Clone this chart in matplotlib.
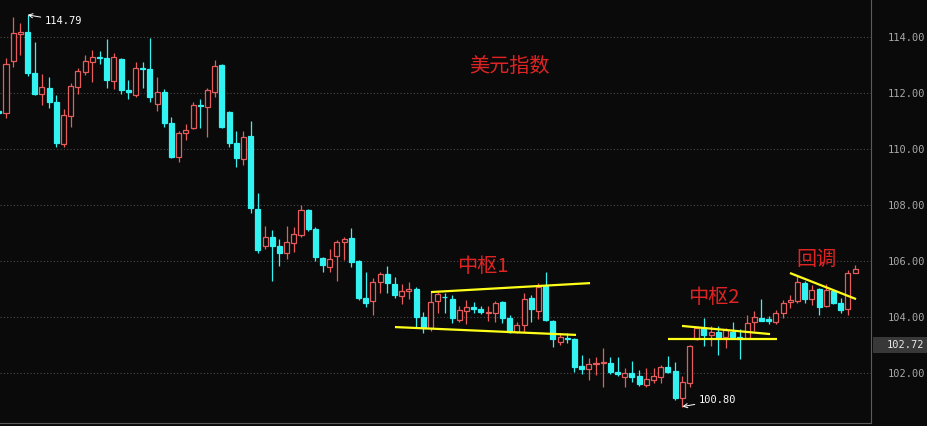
import matplotlib
matplotlib.use("Agg")
import matplotlib.pyplot as plt
import matplotlib.transforms as mtransforms
from matplotlib.patches import Rectangle
import numpy as np

plt.rcParams['font.family'] = ['Noto Sans CJK SC', 'DejaVu Sans']

# ---------------- data ----------------
opens = [111.36, 111.29, 113.14, 114.11, 114.18, 112.71, 111.96, 112.18, 111.68, 110.18,
         111.18, 112.21, 112.75, 113.11, 113.29, 113.25, 112.43, 113.21, 112.11, 111.93,
         112.89, 112.86, 111.61, 112.04, 110.93, 109.71, 110.57, 110.75, 111.57, 111.50,
         112.04, 113.00, 111.32, 110.21, 109.64, 110.46, 107.86, 106.54, 106.86, 106.54,
         106.29, 106.64, 106.93, 107.82, 107.14, 106.11, 105.79, 106.18, 106.68, 106.82,
         106.00, 104.68, 104.57, 105.25, 105.54, 105.18, 104.75, 104.93, 105.00, 104.00,
         103.61, 104.57, 104.73, 104.64, 103.89, 104.21, 104.36, 104.29, 104.14, 104.14,
         104.54, 103.96, 103.46, 103.71, 104.68, 104.21, 105.11, 103.86, 103.11, 103.25,
         103.21, 102.25, 102.14, 102.32, 102.36, 102.36, 102.04, 101.86, 102.00, 101.89,
         101.57, 101.75, 101.86, 102.21, 102.07, 101.11, 101.64, 103.21, 103.61, 103.36,
         103.46, 103.29, 103.46, 103.27, 103.25, 103.82, 103.96, 103.93, 103.82, 104.14,
         104.54, 104.57, 105.21, 104.64, 105.00, 104.39, 104.93, 104.50, 104.29, 105.57]
closes = [111.29, 113.04, 114.14, 114.18, 112.71, 111.96, 112.21, 111.68, 110.21, 111.21,
          112.25, 112.79, 113.14, 113.29, 113.25, 112.46, 113.29, 112.11, 112.04, 112.89,
          112.86, 111.86, 112.04, 110.93, 109.71, 110.57, 110.68, 111.57, 111.54, 112.11,
          112.96, 110.79, 110.21, 109.68, 110.43, 107.89, 106.39, 106.86, 106.54, 106.29,
          106.68, 106.96, 107.82, 107.14, 106.14, 105.86, 106.07, 106.68, 106.79, 105.96,
          104.68, 104.50, 105.25, 105.54, 105.21, 104.79, 104.93, 105.00, 104.00, 103.61,
          104.54, 104.82, 104.70, 103.96, 104.25, 104.36, 104.29, 104.18, 104.18, 104.50,
          103.96, 103.46, 103.71, 104.64, 104.29, 105.07, 103.89, 103.21, 103.29, 103.23,
          102.21, 102.14, 102.32, 102.36, 102.39, 102.04, 101.96, 102.00, 101.86, 101.61,
          101.79, 101.89, 102.21, 102.04, 101.11, 101.68, 102.96, 103.61, 103.36, 103.46,
          103.25, 103.54, 103.29, 103.23, 103.79, 104.00, 103.86, 103.86, 104.14, 104.50,
          104.61, 105.25, 104.64, 104.96, 104.36, 104.96, 104.50, 104.25, 105.57, 105.71]
highs = [111.50, 113.25, 114.71, 114.50, 114.79, 113.82, 112.68, 112.57, 111.93, 111.43,
         112.36, 112.89, 113.36, 113.54, 113.50, 113.93, 113.43, 113.25, 112.46, 113.11,
         113.11, 113.96, 112.57, 112.14, 111.14, 110.64, 110.89, 111.68, 111.79, 112.18,
         113.18, 113.04, 111.36, 110.64, 110.64, 111.00, 108.43, 107.25, 107.11, 106.79,
         107.25, 107.21, 108.00, 107.86, 107.21, 106.14, 106.43, 106.75, 106.86, 107.18,
         106.04, 105.61, 105.39, 105.61, 105.82, 105.43, 105.18, 105.25, 105.07, 104.18,
         104.89, 104.89, 104.86, 104.79, 104.39, 104.61, 104.54, 104.39, 104.39, 104.57,
         104.57, 104.07, 103.82, 104.86, 104.79, 105.21, 105.61, 103.89, 103.43, 103.43,
         103.25, 102.64, 102.54, 102.57, 102.89, 102.57, 102.57, 102.18, 102.43, 102.11,
         102.18, 102.18, 102.29, 102.61, 102.39, 101.89, 103.00, 103.68, 103.96, 103.68,
         103.68, 103.61, 103.82, 103.57, 104.07, 104.21, 104.64, 104.04, 104.25, 104.61,
         104.79, 105.46, 105.29, 105.14, 105.04, 105.18, 105.00, 104.68, 105.68, 105.86]
lows = [111.10, 111.11, 112.93, 113.36, 112.61, 111.93, 111.57, 111.46, 110.07, 110.07,
        110.79, 111.96, 112.64, 112.39, 113.04, 112.18, 112.14, 111.96, 111.79, 111.86,
        112.18, 111.68, 111.36, 110.79, 109.68, 109.54, 110.32, 110.71, 110.75, 110.43,
        111.86, 110.75, 110.07, 109.36, 109.43, 107.71, 106.29, 106.43, 105.29, 105.82,
        106.07, 106.32, 106.86, 107.07, 106.00, 105.61, 105.61, 105.29, 106.04, 105.79,
        104.61, 104.36, 104.07, 104.86, 104.86, 104.68, 104.46, 104.64, 103.64, 103.43,
        103.50, 104.14, 104.14, 103.79, 103.82, 103.75, 104.14, 104.11, 103.86, 103.82,
        103.79, 103.43, 103.43, 103.46, 103.82, 103.93, 103.86, 102.93, 103.00, 103.07,
        102.04, 101.96, 101.75, 101.93, 101.50, 101.96, 101.89, 101.50, 101.68, 101.54,
        101.50, 101.64, 101.64, 102.00, 101.04, 100.80, 101.50, 103.18, 102.96, 102.96,
        102.64, 102.89, 103.21, 102.50, 103.21, 103.50, 103.86, 103.75, 103.75, 103.96,
        104.32, 104.50, 104.50, 104.43, 104.07, 104.36, 104.46, 104.14, 104.07, 105.57]

y_ticks = [102, 104, 106, 108, 110, 112, 114]
last_price_label = "102.72"
last_price_pos = 103.0
title_text = "美元指数"
high_label = "114.79"
low_label = "100.80"

# annotation lines (index, value) endpoints
zs1_upper = ([60.07, 82.17], [104.89, 105.21])
zs1_lower = ([55.06, 80.22], [103.64, 103.36])
zs2_upper = ([94.95, 107.19], [103.68, 103.39])
zs2_lower = ([93.0, 108.16], [103.21, 103.21])
pullback = ([109.96, 119.14], [105.57, 104.64])

# ---------------- style ----------------
BG = '#0a0a0a'
RED = '#E65C5C'
CYAN = '#33F2F2'
TXT_RED = '#E02424'
YEL = '#FFFF1A'

W, H = 927, 426
fig = plt.figure(figsize=(W / 100, H / 100), dpi=100, facecolor=BG)
ax = fig.add_axes([0, 3 / H, 871 / W, 423 / H])
ax.set_facecolor(BG)

n = len(opens)
x = np.arange(n)
o = np.array(opens); c = np.array(closes); h = np.array(highs); l = np.array(lows)
up = c >= o
bw = 0.7

for i in range(n):
    col = RED if up[i] else CYAN
    ax.vlines(x[i], l[i], h[i], color=col, lw=0.9, zorder=2)
    bottom = min(o[i], c[i])
    height = max(abs(c[i] - o[i]), 0.02)
    if up[i]:
        ax.bar(x[i], height, bottom=bottom, width=bw, facecolor=BG,
               edgecolor=col, linewidth=0.9, zorder=3)
    else:
        ax.bar(x[i], height, bottom=bottom, width=bw, facecolor=col,
               edgecolor=col, linewidth=0.9, zorder=3)

for seg in (zs1_upper, zs1_lower, zs2_upper, zs2_lower, pullback):
    ax.plot(seg[0], seg[1], color=YEL, lw=1.6, zorder=4, solid_capstyle='butt')

# labels
ax.text(71.0, 112.96, title_text, color=TXT_RED, fontsize=14.5, ha='center', va='center', zorder=5)
ax.text(67.2, 105.79, "中枢1", color=TXT_RED, fontsize=14.5, ha='center', va='center', zorder=5)
ax.text(99.4, 104.71, "中枢2", color=TXT_RED, fontsize=14.5, ha='center', va='center', zorder=5)
ax.text(113.6, 106.04, "回调", color=TXT_RED, fontsize=14.5, ha='center', va='center', zorder=5)

i_hi = int(np.argmax(h)); i_lo = int(np.argmin(l))
ax.annotate(high_label, xy=(x[i_hi], h[i_hi]), xytext=(x[i_hi] + 2.4, h[i_hi] - 0.22),
            color='white', fontsize=7.5, family='DejaVu Sans Mono', ha='left', va='center',
            arrowprops=dict(arrowstyle='->', color='white', lw=0.7, shrinkA=1, shrinkB=0), zorder=6)
ax.annotate(low_label, xy=(x[i_lo], l[i_lo]), xytext=(x[i_lo] + 2.3, l[i_lo] + 0.22),
            color='white', fontsize=7.5, family='DejaVu Sans Mono', ha='left', va='center',
            arrowprops=dict(arrowstyle='->', color='white', lw=0.7, shrinkA=1, shrinkB=0), zorder=6)

# axes
ax.set_xlim(0.166, 121.22)
ax.set_ylim(100.214, 115.321)
ax.set_xticks([])
ax.yaxis.tick_right()
ax.set_yticks(y_ticks)
ax.set_yticklabels([f"{v:.2f}" for v in y_ticks], family='DejaVu Sans Mono', fontsize=7.5, color='#A8A8A8')
ax.tick_params(axis='y', length=0, pad=12.0)
ax.grid(axis='y', color='#4a4a4a', linestyle=(0, (1, 2)), lw=0.8)
for s in ('top', 'left'):
    ax.spines[s].set_visible(False)
ax.spines['right'].set_color('#5a5a5a')
ax.spines['bottom'].set_color('#5a5a5a')
ax.spines['right'].set_linewidth(0.8)
ax.spines['bottom'].set_linewidth(0.8)

# current price label box
trans = mtransforms.blended_transform_factory(ax.transAxes, ax.transData)
rect = Rectangle((1.002, last_price_pos - 0.27), 0.07, 0.54, transform=trans,
                 facecolor='#383838', edgecolor='none', clip_on=False, zorder=5)
ax.add_patch(rect)
ax.text(1.0 + 16 / 871, last_price_pos, last_price_label, transform=trans, color='#E6E6E6',
        fontsize=7.5, family='DejaVu Sans Mono', ha='left', va='center', zorder=6)

fig.savefig("out.png", dpi=100, facecolor=BG)
